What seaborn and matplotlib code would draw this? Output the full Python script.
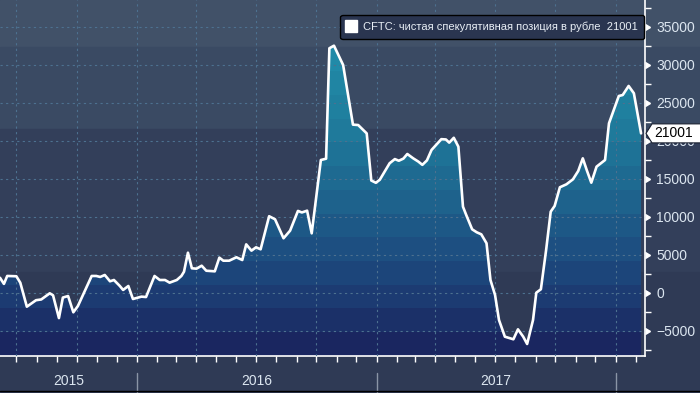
import numpy as np
import pandas as pd
import matplotlib
matplotlib.use("Agg")
import matplotlib.pyplot as plt
import matplotlib.dates as mdates
import matplotlib.markers as mmarkers
import matplotlib.transforms as mtransforms
from matplotlib.colors import ListedColormap
from matplotlib.patches import PathPatch, Polygon, Rectangle
from matplotlib.lines import Line2D
from matplotlib.ticker import MultipleLocator, NullFormatter
import seaborn as sns

# --- datos: CFTC, posición neta especulativa en rublos ---
fechas = [
    "2015-06-06", "2015-06-12", "2015-06-17", "2015-07-01", "2015-07-07", "2015-07-17", "2015-07-31", "2015-08-08", "2015-08-21", "2015-08-26",
    "2015-09-04", "2015-09-10", "2015-09-18", "2015-09-26", "2015-10-03", "2015-10-24", "2015-10-31", "2015-11-06", "2015-11-13", "2015-11-21",
    "2015-11-27", "2015-12-06", "2015-12-11", "2015-12-19", "2015-12-26", "2016-01-08", "2016-01-15", "2016-01-28", "2016-02-05", "2016-02-13",
    "2016-02-20", "2016-03-02", "2016-03-09", "2016-03-13", "2016-03-19", "2016-03-25", "2016-04-01", "2016-04-09", "2016-04-16", "2016-04-29",
    "2016-05-06", "2016-05-12", "2016-05-21", "2016-06-01", "2016-06-10", "2016-06-16", "2016-06-24", "2016-07-01", "2016-07-08", "2016-07-21",
    "2016-07-30", "2016-08-12", "2016-08-22", "2016-09-03", "2016-09-09", "2016-09-17", "2016-09-24", "2016-10-08", "2016-10-16", "2016-10-21",
    "2016-10-28", "2016-11-11", "2016-11-26", "2016-12-04", "2016-12-17", "2016-12-24", "2016-12-31", "2017-01-06", "2017-01-21", "2017-01-29",
    "2017-02-04", "2017-02-11", "2017-02-17", "2017-02-26", "2017-03-06", "2017-03-12", "2017-03-19", "2017-03-26", "2017-04-10", "2017-04-17",
    "2017-04-22", "2017-04-29", "2017-05-06", "2017-05-13", "2017-05-18", "2017-05-27", "2017-06-03", "2017-06-10", "2017-06-18", "2017-06-24",
    "2017-07-01", "2017-07-07", "2017-07-16", "2017-07-29", "2017-08-05", "2017-08-13", "2017-08-19", "2017-08-28", "2017-09-02", "2017-09-09",
    "2017-09-17", "2017-09-24", "2017-09-30", "2017-10-08", "2017-10-18", "2017-10-28", "2017-11-05", "2017-11-12", "2017-11-18", "2017-11-25",
    "2017-12-03", "2017-12-16", "2017-12-22", "2018-01-06", "2018-01-12", "2018-01-21", "2018-01-29", "2018-02-09",
]
valores = [
    2000, 1200, 2240, 2200, 1350, -1800, -950, -850, -40, -300,
    -3300, -600, -400, -2540, -1710, 2240, 2240, 2110, 2370, 1540,
    1710, 920, 400, 920, -790, -480, -530, 2240, 1710, 1710,
    1360, 1710, 2240, 2800, 5300, 3250, 3200, 3590, 2930, 2850,
    4650, 4250, 4250, 4700, 4340, 6400, 5570, 6010, 5750, 10100,
    9700, 7200, 8200, 10800, 10600, 10830, 7850, 17500, 17670, 32200,
    32540, 30000, 22150, 22100, 21000, 14800, 14500, 14900, 17070, 17620,
    17400, 17680, 18290, 17720, 17280, 16860, 17450, 18820, 20240, 20200,
    19780, 20420, 19250, 11360, 10260, 8380, 7990, 7720, 6540, 1710,
    -260, -3550, -5750, -6090, -4780, -5750, -6710, -3550, 40, 490,
    5660, 10700, 11450, 13910, 14300, 14960, 16050, 17720, 16180, 14510,
    16620, 17500, 22330, 25920, 26050, 27240, 26280, 21001,
]
anios = ["2015", "2016", "2017"]
marcas_y = [-5000, 0, 5000, 10000, 15000, 20000, 25000, 30000, 35000]
etiqueta = f"CFTC: чистая спекулятивная позиция в рубле  {valores[-1]}"

# --- estilo ---
sns.set_style("dark", {"axes.facecolor": "none"})
plt.rcParams['font.family'] = ['Liberation Sans', 'DejaVu Sans']

# bandas del fondo (px desde arriba) y degradado escalonado del relleno
bandas_fondo = [(0, 47, '#415168'), (47, 129, '#3a4a63'), (129, 272, '#333f5a'), (272, 393, '#2f3a55')]
colores_relleno = ['#2696b3', '#2390ae', '#218aa8', '#2085a3', '#1f809f', '#1f7a9b', '#1e7296',
                   '#1e6a91', '#1e628c', '#1d5886', '#1d4f81', '#1c457a', '#1c3b72', '#1b3068', '#1a2660']
texto_claro = '#dce6f0'

W, H = 700, 393
fig = plt.figure(figsize=(7, 3.93), dpi=100)
fig.patch.set_facecolor('#2f3a55')
for y0, y1, c in bandas_fondo:
    fig.add_artist(Rectangle((0, 1 - y1 / H), 1, (y1 - y0) / H, transform=fig.transFigure,
                             color=c, zorder=-10))
fig.add_artist(Line2D([0, 1], [2.5 / H] * 2, color='black', lw=1, transform=fig.transFigure))

ax = fig.add_axes([0, 37 / H, 645 / W, 356 / H])
ax.set_facecolor('none')

df = pd.DataFrame({'fecha': pd.to_datetime(fechas), 'valor': valores})
ymin, ymax = -8290, 38550
xmin, xmax = pd.Timestamp('2015-06-06'), pd.Timestamp('2018-02-15')

# relleno con degradado recortado bajo la curva
relleno = ax.fill_between(df['fecha'], df['valor'], ymin, facecolor='none', edgecolor='none')
clip = PathPatch(relleno.get_paths()[0], transform=ax.transData, facecolor='none', edgecolor='none')
ax.add_patch(clip)
grad = np.arange(len(colores_relleno)).reshape(-1, 1)
img = ax.imshow(grad, cmap=ListedColormap(colores_relleno), aspect='auto', origin='upper',
                extent=[mdates.date2num(xmin), mdates.date2num(xmax), ymin, ymax],
                interpolation='nearest', zorder=1)
img.set_clip_path(clip)

sns.lineplot(data=df, x='fecha', y='valor', ax=ax, color='white', linewidth=1.9, zorder=3)
ax.set_xlabel('')
ax.set_ylabel('')
ax.set_xlim(xmin, xmax)
ax.set_ylim(ymin, ymax)

# rejilla punteada
ax.set_axisbelow(False)
ax.xaxis.set_major_locator(mdates.MonthLocator(bymonth=[1, 4, 7, 10]))
ax.xaxis.set_minor_locator(mdates.MonthLocator())
ax.xaxis.set_major_formatter(NullFormatter())
ax.set_yticks(marcas_y)
ax.yaxis.set_minor_locator(MultipleLocator(2500))
ax.grid(True, which='major', color='#4d7190', linestyle=(0, (2, 3)), linewidth=0.8)

for lado in ['top', 'left']:
    ax.spines[lado].set_visible(False)
for lado in ['bottom', 'right']:
    ax.spines[lado].set_color('white')
    ax.spines[lado].set_linewidth(1.2)

ax.tick_params(axis='x', which='both', bottom=True, direction='out', length=4, width=1, color='white')
ax.yaxis.tick_right()
ax.tick_params(axis='y', which='major', right=True, left=False, length=5, width=1, color='white',
               labelcolor=texto_claro, labelsize=10, pad=3)
ax.tick_params(axis='y', which='minor', right=True, left=False, length=4, width=1, color='white')
for t in ax.yaxis.get_major_ticks():
    t.tick2line.set_marker(mmarkers.CARETRIGHTBASE)
    t.tick2line.set_markersize(5)

# años bajo el eje
tr_x = mtransforms.blended_transform_factory(ax.transData, ax.transAxes)
limites = [xmin, pd.Timestamp('2016-01-01'), pd.Timestamp('2017-01-01'), pd.Timestamp('2018-01-01')]
for i, anio in enumerate(anios):
    centro = limites[i] + (limites[i + 1] - limites[i]) / 2
    ax.text(mdates.date2num(centro), -0.0716, anio, transform=tr_x, ha='center', va='center',
            color=texto_claro, fontsize=10)
for lim in limites[1:]:
    ax.plot([mdates.date2num(lim)] * 2, [-0.048, -0.104], transform=tr_x, color='#8a94a6',
            lw=1, clip_on=False)

# leyenda
h = Line2D([], [], marker='s', color='white', linestyle='none', markersize=8)
leg = ax.legend([h], [etiqueta], loc='upper right', bbox_to_anchor=(644 / 645, 1 - 15 / 356),
                borderaxespad=0, frameon=True, facecolor='#2a3550', edgecolor='black',
                fontsize=8, labelcolor='#e8eef5', handlelength=0.8, handletextpad=0.6,
                borderpad=0.6, fancybox=True)
leg.get_frame().set_alpha(1)
leg.get_frame().set_linewidth(1)

# etiqueta del último valor
v = valores[-1]
tr_v = mtransforms.blended_transform_factory(fig.transFigure, ax.transData)
dy = 9.5 * (ymax - ymin) / 356
fig.add_artist(Polygon([(646 / W, v), (652 / W, v + dy), (1.01, v + dy), (1.01, v - dy), (652 / W, v - dy)],
                       closed=True, transform=tr_v, facecolor='white', edgecolor='#1a2030',
                       lw=0.8, zorder=5))
fig.text(654 / W, v, str(v), transform=tr_v, ha='left', va='center', color='black',
         fontsize=10, zorder=6)

plt.savefig('out.png', dpi=100, facecolor=fig.get_facecolor())
